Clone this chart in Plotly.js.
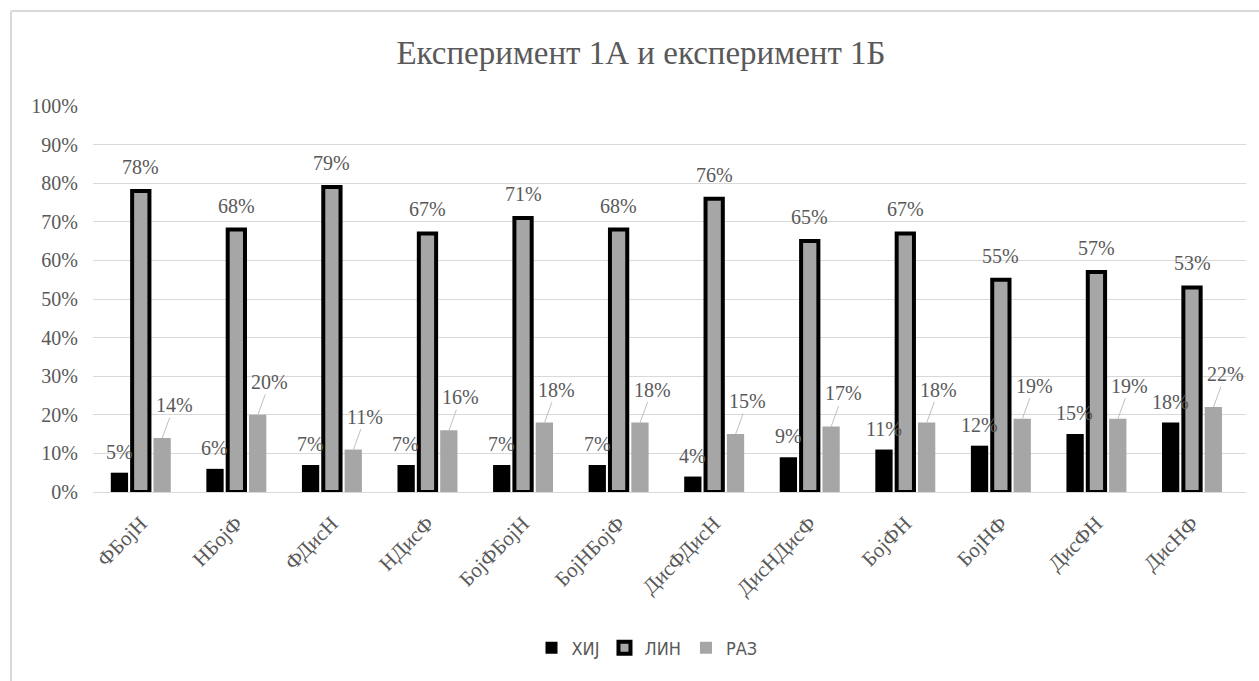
<!DOCTYPE html>
<html>
<head>
<meta charset="utf-8">
<script src="https://cdn.plot.ly/plotly-3.0.1.min.js"></script>
<style>
  html, body { margin: 0; padding: 0; background: #ffffff; }
  #chart { width: 1259px; height: 681px; }
</style>
</head>
<body>
<div id="chart"></div>
<script>
// Condition labels along the category axis
const categories = ['ФБојН', 'НБојФ', 'ФДисН', 'НДисФ', 'БојФБојН', 'БојНБојФ',
                    'ДисФДисН', 'ДисНДисФ', 'БојФН', 'БојНФ', 'ДисФН', 'ДисНФ'];

// Share of answers per condition, in percent
const hij = [5, 6, 7, 7, 7, 7, 4, 9, 11, 12, 15, 18];
const lin = [78, 68, 79, 67, 71, 68, 76, 65, 67, 55, 57, 53];
const raz = [14, 20, 11, 16, 18, 18, 15, 17, 18, 19, 19, 22];

const seriesNames = ['ХИЈ', 'ЛИН', 'РАЗ'];
const yTicks = [0, 10, 20, 30, 40, 50, 60, 70, 80, 90, 100];
const yTickText = yTicks.map(v => v + '%');
const chartTitle = 'Експеримент 1А и експеримент 1Б';

const serif = 'Liberation Serif, Times New Roman, serif';
const textGray = '#595959';
const barGray = '#a6a6a6';
const gridGray = '#d9d9d9';

const traces = [
  { type: 'bar', name: seriesNames[0], x: categories, y: hij,
    marker: { color: '#000000', line: { width: 0 } }, hoverinfo: 'x+y' },
  { type: 'bar', name: seriesNames[1], x: categories, y: lin,
    marker: { color: barGray, line: { color: '#000000', width: 4 } }, hoverinfo: 'x+y' },
  { type: 'bar', name: seriesNames[2], x: categories, y: raz,
    marker: { color: barGray, line: { width: 0 } }, hoverinfo: 'x+y' }
];

// Value labels: centred above the first two series, offset with a leader line for the third
const labelFont = { family: serif, size: 20, color: textGray };
const slot = 21.5; // horizontal distance between bars in a group, px
const annotations = [];
categories.forEach((c, i) => {
  annotations.push({ x: c, y: hij[i], xref: 'x', yref: 'y', text: hij[i] + '%',
    showarrow: false, xshift: -slot, yshift: 21, yanchor: 'middle', font: labelFont });
  annotations.push({ x: c, y: lin[i], xref: 'x', yref: 'y', text: lin[i] + '%',
    showarrow: false, xshift: 0, yshift: 24, yanchor: 'middle', font: labelFont });
  annotations.push({ x: c, y: raz[i], xref: 'x', yref: 'y', text: raz[i] + '%',
    showarrow: true, arrowhead: 0, arrowwidth: 1, arrowcolor: '#bfbfbf', standoff: 0,
    ax: 12, ay: -33, xshift: slot, font: labelFont });
});

// Chart frame (left and top edges)
const px2x = p => (p - 93) / 1153;
const px2y = p => (492 - p) / 386;
const shapes = [
  { type: 'line', xref: 'paper', yref: 'paper', x0: px2x(11), x1: px2x(1262), y0: px2y(11), y1: px2y(11),
    line: { color: gridGray, width: 2 } },
  { type: 'line', xref: 'paper', yref: 'paper', x0: px2x(11), x1: px2x(11), y0: px2y(11), y1: px2y(690),
    line: { color: gridGray, width: 2 } }
];

const layout = {
  width: 1259, height: 681,
  margin: { l: 93, r: 13, t: 106, b: 189 },
  paper_bgcolor: '#ffffff', plot_bgcolor: '#ffffff',
  title: { text: chartTitle, font: { family: serif, size: 33, color: textGray },
           x: px2x(641), xref: 'paper', xanchor: 'center',
           y: 1 - 52 / 681, yref: 'container', yanchor: 'middle' },
  barmode: 'group', bargap: 0.33, bargroupgap: 0.19,
  xaxis: { type: 'category', showgrid: false, showline: true, linecolor: gridGray, linewidth: 1,
           ticks: '', tickangle: -45, autotickangles: [-45],
           tickfont: { family: serif, size: 21, color: textGray },
           ticklabelstandoff: 10, fixedrange: true },
  yaxis: { range: [0, 100], tickmode: 'array', tickvals: yTicks, ticktext: yTickText,
           showgrid: true, gridcolor: gridGray, gridwidth: 1, zeroline: false, showline: false, ticks: '',
           tickfont: { family: serif, size: 20, color: textGray }, ticklabelstandoff: 14, fixedrange: true },
  showlegend: true,
  legend: { orientation: 'h', x: px2x(647), xanchor: 'center', y: px2y(648), yanchor: 'middle',
            font: { family: 'Liberation Sans Narrow, DejaVu Sans Condensed, sans-serif', size: 18, color: textGray },
            itemwidth: 30, traceorder: 'normal', bgcolor: 'rgba(0,0,0,0)' },
  annotations: annotations,
  shapes: shapes
};

Plotly.newPlot('chart', traces, layout, { displayModeBar: false, staticPlot: true });
</script>
</body>
</html>
